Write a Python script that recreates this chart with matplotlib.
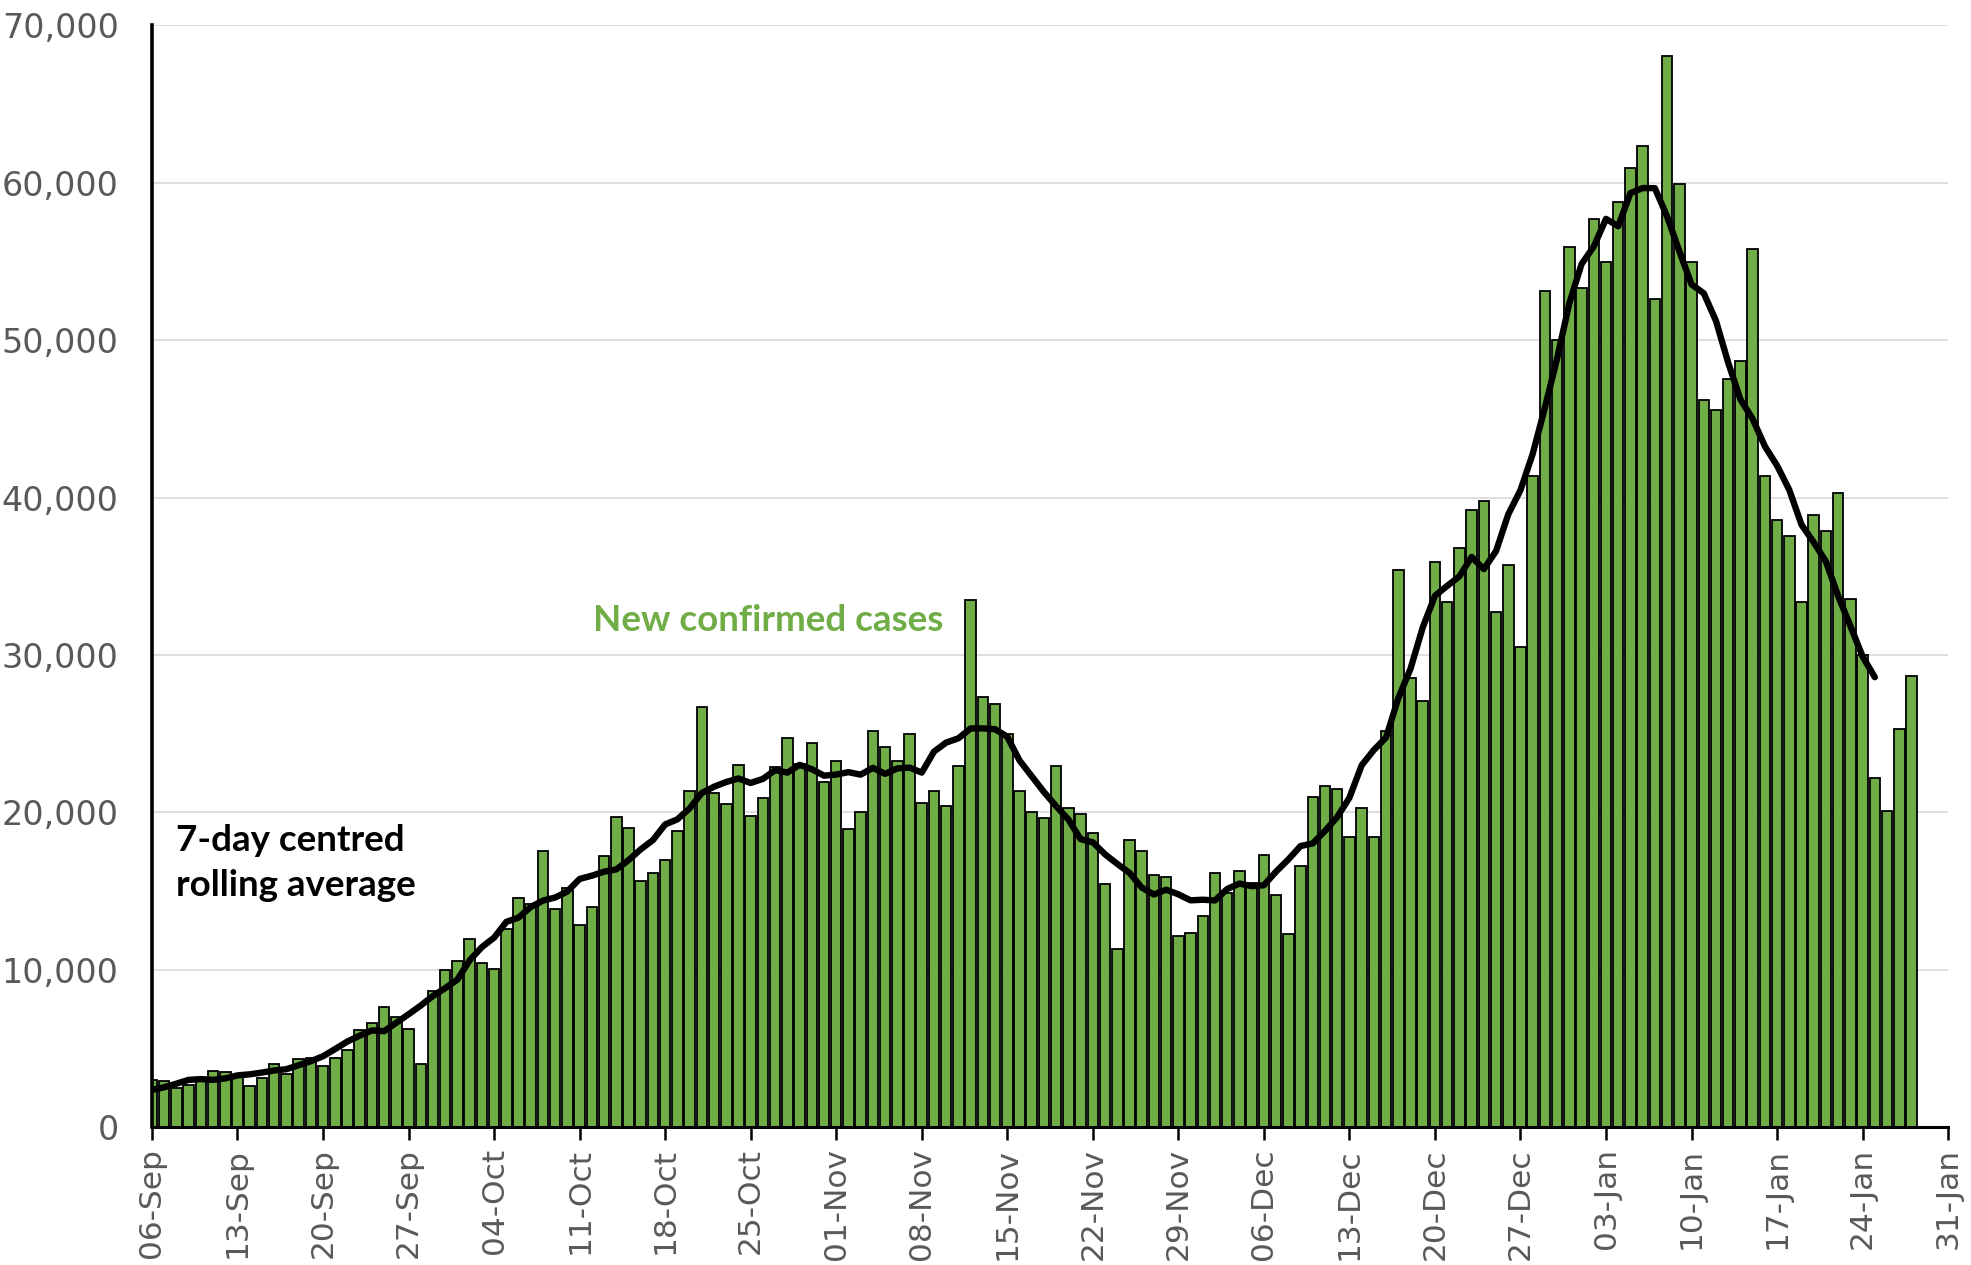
import numpy as np
import pandas as pd
import matplotlib
matplotlib.use("Agg")
import matplotlib.pyplot as plt
import matplotlib.dates as mdates

# daily new confirmed cases, 06-Sep-2020 .. 28-Jan-2021
start = "2020-09-06"
earlier = [1735, 1940, 1813]  # 03-Sep .. 05-Sep, only used for the centred average
sep = [2988, 2948, 2460, 2659, 2919, 3539, 3497, 3330, 2621, 3105, 3991, 3395,
       4322, 4422, 3899, 4368, 4926, 6178, 6634, 7660, 7020, 6210, 4040, 8660, 9960]
octo = [10530, 11960, 10430, 10040, 12594, 14542, 14162, 17540, 13864, 15166, 12872,
        13972, 17234, 19724, 18980, 15650, 16171, 16982, 18804, 21330, 26688, 21242,
        20530, 23012, 19790, 20890, 22885, 24701, 23065, 24405, 21915]
nov = [23254, 18950, 20018, 25177, 24141, 23287, 24957, 20572, 21350, 20412, 22950,
       33470, 27301, 26860, 24962, 21363, 20051, 19609, 22915, 20252, 19875, 18662,
       15450, 11299, 18213, 17555, 16022, 15871, 12155, 12330]
dec = [13430, 16170, 14879, 16298, 15539, 17272, 14718, 12282, 16578, 20964, 21672,
       21502, 18447, 20263, 18450, 25161, 35383, 28507, 27052, 35928, 33364, 36804,
       39237, 39800, 32725, 35720, 30501, 41385, 53135, 50023, 55892]
jan = [53285, 57725, 54990, 58784, 60916, 62322, 52618, 68053, 59937, 54940, 46169,
       45533, 47525, 48682, 55761, 41346, 38598, 37535, 33355, 38905, 37892, 40261,
       33552, 30004, 22195, 20089, 25308, 28680]

cases = sep + octo + nov + dec + jan
dates = pd.date_range(start, periods=len(cases), freq="D")

full = pd.Series(earlier + cases,
                 index=pd.date_range("2020-09-03", periods=len(earlier) + len(cases)))
avg = full.rolling(7, center=True).mean()
avg = avg[avg.index >= pd.Timestamp(start)].dropna()

fig = plt.figure(figsize=(19.71, 12.65), dpi=100)
ax = fig.add_axes([0.0771, 0.109, 0.9113, 0.871])

ax.bar(dates, cases, width=0.86, color="#70AD47", edgecolor="black",
       linewidth=1.3, zorder=2)
ax.plot(avg.index, avg.values, color="black", linewidth=4.6,
        solid_capstyle="round", solid_joinstyle="round", zorder=3)

ax.set_ylim(0, 70000)
ax.set_yticks(np.arange(0, 70001, 10000))
ax.yaxis.set_major_formatter(matplotlib.ticker.FuncFormatter(lambda v, p: f"{int(v):,}"))
ax.set_xlim(pd.Timestamp(start), pd.Timestamp("2021-01-31"))
ax.set_xticks(pd.date_range(start, "2021-01-31", freq="7D"))
ax.xaxis.set_major_formatter(mdates.DateFormatter("%d-%b"))

ax.grid(axis="y", color="#D9D9D9", linewidth=1.2, zorder=0)
ax.set_axisbelow(True)
for s in ["top", "right"]:
    ax.spines[s].set_visible(False)
ax.spines["left"].set_linewidth(2.6)
ax.spines["bottom"].set_linewidth(2.2)

ax.tick_params(axis="y", length=0, pad=24, labelsize=24, labelcolor="#595959")
ax.tick_params(axis="x", length=9, width=1.8, direction="out", pad=6,
               labelsize=22.5, labelcolor="#595959", labelrotation=90)

ax.text(pd.Timestamp(start) + pd.Timedelta(days=50.4), 32200, "New confirmed cases",
        color="#70AD47", fontsize=26.5, fontweight="bold", family="Lato",
        ha="center", va="center")
ax.text(pd.Timestamp(start) + pd.Timedelta(days=2.0), 16800,
        "7-day centred\nrolling average", color="black", fontsize=26.5,
        fontweight="bold", family="Lato", ha="left", va="center", linespacing=1.45)

fig.savefig("out.png", dpi=100)
